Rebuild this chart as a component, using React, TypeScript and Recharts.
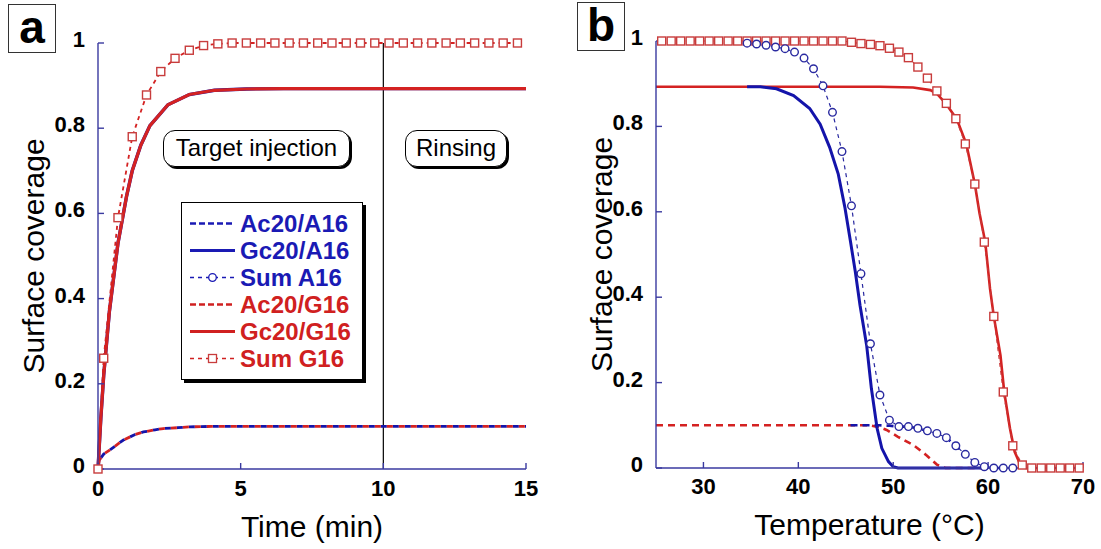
import React from "react";
import { LineChart, Line, XAxis, YAxis, ReferenceLine } from "recharts";

// Panel a: adsorption kinetics, time in min
const aCurveT = [0, 0.1, 0.2, 0.4, 0.7, 1.0, 1.2, 1.5, 1.82, 2.45, 3.2, 4.08, 5.2, 6.5, 15];
const aGc20G16 = [0, 0.12, 0.22, 0.37, 0.53, 0.64, 0.7, 0.76, 0.806, 0.855, 0.879, 0.889, 0.892, 0.893, 0.893];
const aGc20A16 = [0, 0.12, 0.22, 0.37, 0.53, 0.64, 0.7, 0.76, 0.806, 0.855, 0.879, 0.889, 0.892, 0.893, 0.893];
const aAcT = [0, 0.05, 0.2, 0.42, 0.89, 1.3, 1.59, 2.0, 2.29, 2.8, 3.22, 4.0, 15];
const aAc20G16 = [0, 0.021, 0.035, 0.045, 0.068, 0.081, 0.087, 0.092, 0.095, 0.097, 0.099, 0.1, 0.1];
const aAc20A16 = [0, 0.021, 0.035, 0.045, 0.068, 0.081, 0.087, 0.092, 0.095, 0.097, 0.099, 0.1, 0.1];
const aSumT = [0, 0.2, 0.7, 1.2, 1.7, 2.2, 2.7, 3.2, 3.7, 4.2, 4.7, 5.2, 5.7, 6.2, 6.7, 7.2, 7.7, 8.2, 8.7, 9.2, 9.7, 10.2, 10.7, 11.2, 11.7, 12.2, 12.7, 13.2, 13.7, 14.2, 14.7];
const aSumG16 = [0, 0.26, 0.59, 0.78, 0.878, 0.933, 0.964, 0.983, 0.994, 0.998, 1, 1, 1, 1, 1, 1, 1, 1, 1, 1, 1, 1, 1, 1, 1, 1, 1, 1, 1, 1, 1];

// Panel b: melting curves, temperature in °C
const bGridT = [25.6, 26.6, 27.6, 28.6, 29.6, 30.6, 31.6, 32.6, 33.6, 34.6, 35.6, 36.6, 37.6, 38.6, 39.6, 40.6, 41.6, 42.6, 43.6, 44.6, 45.6, 46.6, 47.6, 48.6, 49.6, 50.6, 51.6, 52.6, 53.6, 54.6, 55.6, 56.6, 57.6, 58.6, 59.6, 60.6, 61.6, 62.6, 63.6, 64.6, 65.6, 66.6, 67.6, 68.6, 69.6];
const bSumG16 = [1, 1, 1, 1, 1, 1, 1, 1, 1, 1, 1, 1, 1, 1, 1, 1, 1, 1, 1, 1, 0.997, 0.994, 0.992, 0.989, 0.983, 0.974, 0.961, 0.939, 0.913, 0.883, 0.854, 0.818, 0.759, 0.665, 0.529, 0.355, 0.178, 0.052, 0.007, 0, 0, 0, 0, 0, 0];
const bSumAT = [34.6, 35.6, 36.6, 37.6, 38.6, 39.6, 40.6, 41.6, 42.6, 43.6, 44.6, 45.6, 46.6, 47.6, 48.6, 49.6, 50.6, 51.6, 52.6, 53.6, 54.6, 55.6, 56.6, 57.6, 58.6, 59.6, 60.6, 61.6, 62.6];
const bSumA16 = [0.995, 0.993, 0.99, 0.986, 0.982, 0.974, 0.96, 0.935, 0.895, 0.833, 0.741, 0.614, 0.455, 0.291, 0.171, 0.112, 0.097, 0.097, 0.093, 0.087, 0.081, 0.071, 0.052, 0.032, 0.013, 0.003, 0, 0, 0];
const bGcGT = [25, 48.6, 52.1, 53.9, 54.6, 55.6, 56.7, 57.7, 58.6, 59.1, 59.7, 60.2, 60.6, 61.3, 61.7, 62.3, 62.8, 63.4, 64, 70];
const bGc20G16 = [0.893, 0.893, 0.891, 0.885, 0.877, 0.852, 0.817, 0.759, 0.665, 0.596, 0.529, 0.42, 0.355, 0.264, 0.178, 0.093, 0.038, 0.007, 0, 0];
const bGcAT = [34.6, 36, 37.7, 39.5, 41.2, 42.3, 43.3, 44.2, 44.9, 45.5, 46.0, 46.5, 47.2, 47.7, 48.3, 48.8, 49.5, 50.0, 50.5, 60];
const bGc20A16 = [0.893, 0.893, 0.888, 0.872, 0.842, 0.805, 0.751, 0.689, 0.611, 0.53, 0.46, 0.381, 0.287, 0.186, 0.093, 0.046, 0.015, 0.003, 0, 0];
const bAcGT = [25, 47.5, 48.6, 49.3, 50.5, 52.1, 53.5, 54.6, 55.5, 60];
const bAc20G16 = [0.1, 0.1, 0.095, 0.089, 0.073, 0.054, 0.03, 0.008, 0, 0];
const bAcAT = [45.5, 48.5, 49.6, 50.6, 51.6, 52.6, 53.6, 54.6, 55.6, 56.6, 57.6, 58.6, 59.6, 60.6, 62];
const bAc20A16 = [0.1, 0.1, 0.099, 0.097, 0.097, 0.093, 0.087, 0.081, 0.071, 0.052, 0.032, 0.013, 0.003, 0, 0];

const yTicks = [0, 0.2, 0.4, 0.6, 0.8, 1];
const rightTicks = [0.2, 0.4, 0.6, 0.8];
const aXTicks = [0, 5, 10, 15];
const bXTicks = [30, 40, 50, 60, 70];
const aTopTicks = [4.5];
const bTopTicks = [29.4, 58.5];

const legendItems = [
  { name: "Ac20/A16", color: "#1a1ab4", kind: "dash" },
  { name: "Gc20/A16", color: "#1a1ab4", kind: "solid" },
  { name: "Sum A16", color: "#1a1ab4", kind: "circle" },
  { name: "Ac20/G16", color: "#d02020", kind: "dash" },
  { name: "Gc20/G16", color: "#d02020", kind: "solid" },
  { name: "Sum G16", color: "#d02020", kind: "square" },
];

const FONT = "Arial, 'Liberation Sans', sans-serif";
const AXIS = "#3a3aa0";
const BLUE = "#1414aa";
const RED = "#d42222";
const SQ = "#c83c3c";

const pts = (xs: number[], ys: number[]) => xs.map((x, i) => ({ x, y: ys[i] }));

const YTick = (props: any) => {
  const { x, y, payload } = props;
  return (
    <text x={x} y={y - 4} dy="0.36em" textAnchor="end" fontSize={22} fontWeight="bold" fontFamily={FONT} fill="#000">
      {payload.value}
    </text>
  );
};

const Square = (p: any) =>
  p.cx == null ? null : (
    <rect key={`s${p.index}`} x={p.cx - 4} y={p.cy - 4} width={8} height={8} fill="#fff" stroke={SQ} strokeWidth={1.4} />
  );

const Circle = (p: any) =>
  p.cx == null ? null : (
    <circle key={`c${p.index}`} cx={p.cx} cy={p.cy} r={3.8} fill="#fff" stroke="#2a2aa0" strokeWidth={1.4} />
  );

const tickStyle = { fontSize: 22, fontWeight: "bold", fill: "#000", fontFamily: FONT };
const titleStyle = { fontSize: 30, fill: "#000", fontFamily: FONT };

function PanelTag({ left, top, letter }: { left: number; top: number; letter: string }) {
  return (
    <div
      style={{
        position: "absolute",
        left,
        top,
        width: 48,
        height: 49,
        border: "1.5px solid #333",
        boxSizing: "border-box",
        fontFamily: FONT,
        fontWeight: "bold",
        fontSize: 46,
        lineHeight: "44px",
        textAlign: "center",
        background: "#fff",
      }}
    >
      {letter}
    </div>
  );
}

function Bubble({ left, top, width, text }: { left: number; top: number; width: number; text: string }) {
  return (
    <div
      style={{
        position: "absolute",
        left,
        top,
        width,
        height: 37,
        border: "1.5px solid #000",
        borderRadius: 12,
        boxShadow: "2px 2px 0 #000",
        boxSizing: "border-box",
        background: "#fff",
        fontFamily: FONT,
        fontSize: 24,
        lineHeight: "34px",
        textAlign: "center",
      }}
    >
      {text}
    </div>
  );
}

function LegendBox() {
  return (
    <div
      style={{
        position: "absolute",
        left: 181,
        top: 202,
        width: 182,
        height: 178,
        border: "1px solid #000",
        boxShadow: "3px 3px 0 #000",
        boxSizing: "border-box",
        background: "#fff",
      }}
    >
      {legendItems.map((it, i) => (
        <div key={it.name} style={{ position: "absolute", left: 0, top: 7 + i * 27, height: 27, width: 180 }}>
          <svg width={50} height={27} style={{ position: "absolute", left: 6, top: 0 }}>
            <line
              x1={2}
              x2={47}
              y1={13.5}
              y2={13.5}
              stroke={it.color}
              strokeWidth={it.kind === "circle" || it.kind === "square" ? 1.3 : it.kind === "solid" ? 3 : 2.6}
              strokeDasharray={it.kind === "solid" ? undefined : it.kind === "dash" ? "6 3" : "4 4"}
            />
            {it.kind === "circle" && <circle cx={24.5} cy={13.5} r={3.8} fill="#fff" stroke={it.color} strokeWidth={1.3} />}
            {it.kind === "square" && <rect x={20.5} y={9.5} width={8} height={8} fill="#fff" stroke={SQ} strokeWidth={1.3} />}
          </svg>
          <span
            style={{
              position: "absolute",
              left: 58,
              top: 0,
              lineHeight: "27px",
              fontFamily: FONT,
              fontWeight: "bold",
              fontSize: 24,
              color: it.color,
              whiteSpace: "nowrap",
            }}
          >
            {it.name}
          </span>
        </div>
      ))}
    </div>
  );
}

function PanelA() {
  return (
    <LineChart width={560} height={549} margin={{ top: 43, right: 34, bottom: 0, left: 8 }}>
      <XAxis
        dataKey="x"
        type="number"
        domain={[0, 15]}
        ticks={aXTicks}
        height={80}
        stroke={AXIS}
        strokeWidth={1.4}
        tickSize={-6}
        tickMargin={17}
        tick={tickStyle}
        label={{ value: "Time (min)", position: "insideBottom", offset: 12, style: titleStyle }}
      />
      <XAxis xAxisId="top" orientation="top" type="number" domain={[0, 15]} ticks={aTopTicks} height={0} stroke={AXIS} strokeWidth={1.4} tickSize={-6} tick={false} />
      <YAxis
        type="number"
        domain={[0, 1]}
        ticks={yTicks}
        width={90}
        stroke={AXIS}
        strokeWidth={1.4}
        tickSize={-6}
        tickMargin={19}
        tick={<YTick />}
        label={{ value: "Surface coverage", angle: -90, position: "insideLeft", offset: 25, style: { ...titleStyle, textAnchor: "middle" } }}
      />
      <YAxis yAxisId="right" orientation="right" type="number" domain={[0, 1]} ticks={rightTicks} width={0} stroke={AXIS} strokeWidth={1.4} tickSize={-6} tick={false} />
      <ReferenceLine x={10} stroke="#000" strokeWidth={1.2} />
      <Line data={pts(aAcT, aAc20A16)} dataKey="y" stroke={BLUE} strokeWidth={2.8} strokeDasharray="6 6" dot={false} isAnimationActive={false} />
      <Line data={pts(aAcT, aAc20G16)} dataKey="y" stroke={RED} strokeWidth={2.8} strokeDasharray="6 6" strokeDashoffset={6} dot={false} isAnimationActive={false} />
      <Line data={pts(aCurveT, aGc20A16)} dataKey="y" stroke={BLUE} strokeWidth={3.4} dot={false} isAnimationActive={false} />
      <Line data={pts(aCurveT, aGc20G16)} dataKey="y" stroke={RED} strokeWidth={3.2} dot={false} isAnimationActive={false} />
      <Line data={pts(aSumT, aSumG16)} dataKey="y" stroke={RED} strokeWidth={1.8} strokeDasharray="4 4" dot={Square} isAnimationActive={false} />
    </LineChart>
  );
}

function PanelB() {
  return (
    <LineChart width={541} height={549} margin={{ top: 41, right: 18, bottom: 0, left: 6 }}>
      <XAxis
        dataKey="x"
        type="number"
        domain={[25, 70]}
        ticks={bXTicks}
        height={81}
        stroke={AXIS}
        strokeWidth={1.4}
        tickSize={-6}
        tickMargin={16}
        tick={tickStyle}
        label={{ value: "Temperature (°C)", position: "insideBottom", offset: 14, style: titleStyle }}
      />
      <XAxis xAxisId="top" orientation="top" type="number" domain={[25, 70]} ticks={bTopTicks} height={0} stroke={AXIS} strokeWidth={1.4} tickSize={-6} tick={false} />
      <YAxis
        type="number"
        domain={[0, 1]}
        ticks={yTicks}
        width={90}
        stroke={AXIS}
        strokeWidth={1.4}
        tickSize={-6}
        tickMargin={19}
        tick={<YTick />}
        label={{ value: "Surface coverage", angle: -90, position: "insideLeft", offset: 35, style: { ...titleStyle, textAnchor: "middle" } }}
      />
      <YAxis yAxisId="right" orientation="right" type="number" domain={[0, 1]} ticks={rightTicks} width={0} stroke={AXIS} strokeWidth={1.4} tickSize={-6} tick={false} />
      <Line data={pts(bAcGT, bAc20G16)} dataKey="y" stroke={RED} strokeWidth={2.6} strokeDasharray="7 5" dot={false} isAnimationActive={false} />
      <Line data={pts(bGcGT, bGc20G16)} dataKey="y" stroke={RED} strokeWidth={2.6} dot={false} isAnimationActive={false} />
      <Line data={pts(bGridT, bSumG16)} dataKey="y" stroke={SQ} strokeWidth={1.2} strokeDasharray="4 4" dot={Square} isAnimationActive={false} />
      <Line data={pts(bAcAT, bAc20A16)} dataKey="y" stroke={BLUE} strokeWidth={2.6} strokeDasharray="7 5" dot={false} isAnimationActive={false} />
      <Line data={pts(bGcAT, bGc20A16)} dataKey="y" stroke={BLUE} strokeWidth={3} dot={false} isAnimationActive={false} />
      <Line data={pts(bSumAT, bSumA16)} dataKey="y" stroke="#2a2aa0" strokeWidth={1.2} strokeDasharray="4 4" dot={Circle} isAnimationActive={false} />
    </LineChart>
  );
}

export default function App() {
  return (
    <div style={{ position: "absolute", left: 0, top: 0, width: 1101, height: 549, background: "#fff", overflow: "hidden" }}>
      <div style={{ position: "absolute", left: 0, top: 0 }}>
        <PanelA />
      </div>
      <div style={{ position: "absolute", left: 560, top: 0 }}>
        <PanelB />
      </div>
      <Bubble left={163} top={130} width={187} text="Target injection" />
      <Bubble left={405} top={130} width={102} text="Rinsing" />
      <LegendBox />
      <PanelTag left={8} top={4} letter="a" />
      <PanelTag left={577} top={2} letter="b" />
    </div>
  );
}
